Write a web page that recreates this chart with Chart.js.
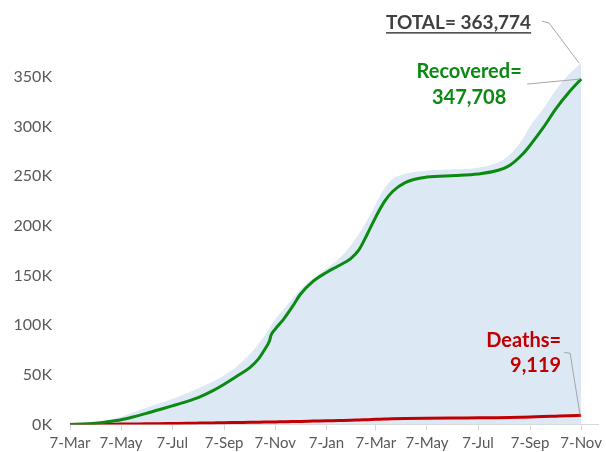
<!DOCTYPE html>
<html>
<head>
<meta charset="utf-8">
<script src="https://cdn.jsdelivr.net/npm/chart.js@4/dist/chart.umd.min.js"></script>
<style>
  html, body { margin: 0; padding: 0; background: #fff; }
  #wrap { width: 606px; height: 452px; }
</style>
</head>
<body>
<div id="wrap"><canvas id="covidChart" width="606" height="452"></canvas></div>
<script>
// days since 7-Mar-2020, values in thousands
const days = [0, 15, 30, 45, 61, 75, 90, 105, 122, 140, 155, 170, 184, 200, 215, 225, 232, 238, 240, 245, 255, 265, 275, 290, 306, 320, 335, 345, 355, 365, 375, 385, 400, 426, 460, 487, 510, 525, 540, 549, 565, 580, 595, 610];
const totalK = [0, 0.6, 1.8, 4, 7.8, 12, 16.5, 20.8, 25.6, 31.5, 37, 43, 49.5, 59, 71, 81, 89, 96.5, 99.5, 106, 116, 126, 136, 147, 157, 166, 180, 192, 206, 222, 237, 247, 252.5, 255.5, 256.8, 258.5, 263.5, 271.5, 287, 300, 318, 337, 352, 363.774];
const recoveredK = [0, 0.3, 1.2, 2.7, 4.7, 7.4, 10.8, 14.5, 18.6, 23.2, 27.8, 33.8, 40.5, 49, 57.5, 66, 75, 84, 90, 96, 106, 118, 131, 144, 153, 159.5, 167, 176, 192, 209, 224, 234.5, 243.5, 249, 250.5, 252.2, 255.6, 261, 272, 281, 299, 318, 334, 347.708];
const deathsK = [0, 0, 0.1, 0.2, 0.3, 0.4, 0.6, 0.7, 0.9, 1.1, 1.3, 1.5, 1.7, 1.9, 2.1, 2.2, 2.3, 2.4, 2.4, 2.5, 2.7, 2.9, 3.0, 3.3, 3.6, 3.9, 4.2, 4.5, 4.8, 5.1, 5.4, 5.7, 6.0, 6.3, 6.5, 6.6, 6.8, 7.0, 7.3, 7.5, 7.9, 8.3, 8.7, 9.119];

const tickDays = [0, 61, 122, 184, 245, 306, 365, 426, 487, 549, 610];
const tickLabels = ["7-Mar", "7-May", "7-Jul", "7-Sep", "7-Nov", "7-Jan", "7-Mar", "7-May", "7-Jul", "7-Sep", "7-Nov"];
const yTicks = [0, 50000, 100000, 150000, 200000, 250000, 300000, 350000];

const GREEN = "#0b8a12";
const RED = "#c00000";
const LEADER = "#a6a6a6";

function toPoints(valuesK) {
	return days.map((d, i) => ({ x: d, y: valuesK[i] * 1000 }));
}

function fmt(k) {
	return Math.round(k * 1000).toLocaleString("en-US");
}

// Labels with leader lines at the end of each series
const calloutPlugin = {
	id: "callouts",
	afterDraw(chart) {
		const { ctx } = chart;
		const x = chart.scales.x;
		const y = chart.scales.y;
		const n = days.length - 1;
		const ex = x.getPixelForValue(days[n]);
		const totY = y.getPixelForValue(totalK[n] * 1000);
		const recY = y.getPixelForValue(recoveredK[n] * 1000);
		const dthY = y.getPixelForValue(deathsK[n] * 1000);

		ctx.save();
		ctx.lineWidth = 1;
		ctx.strokeStyle = LEADER;

		// total
		ctx.beginPath();
		ctx.moveTo(ex - 39, totY - 42);
		ctx.lineTo(ex - 32, totY - 40);
		ctx.lineTo(ex - 2, totY);
		ctx.stroke();
		// recovered
		ctx.beginPath();
		ctx.moveTo(ex - 54, recY + 5);
		ctx.lineTo(ex - 1, recY);
		ctx.stroke();
		// deaths
		ctx.beginPath();
		ctx.moveTo(ex - 17, dthY - 63);
		ctx.lineTo(ex - 11, dthY - 62);
		ctx.lineTo(ex - 1, dthY);
		ctx.stroke();

		ctx.textBaseline = "alphabetic";

		const totText = "TOTAL= " + fmt(totalK[n]);
		ctx.font = "bold 19px Lato";
		ctx.fillStyle = "#404040";
		ctx.textAlign = "right";
		ctx.fillText(totText, ex - 50, totY - 34);
		const w = ctx.measureText(totText).width;
		ctx.fillRect(ex - 50 - w, totY - 31, w, 1.5);

		ctx.font = "bold 20px Lato";
		ctx.fillStyle = GREEN;
		ctx.textAlign = "center";
		ctx.fillText("Recovered=", ex - 112, recY - 1);
		ctx.fillText(fmt(recoveredK[n]), ex - 112, recY + 25);

		ctx.fillStyle = RED;
		ctx.textAlign = "right";
		ctx.fillText("Deaths=", ex - 20, dthY - 68);
		ctx.fillText(fmt(deathsK[n]), ex - 20, dthY - 43);
		ctx.restore();
	}
};

const ctx = document.getElementById("covidChart").getContext("2d");

new Chart(ctx, {
	type: "line",
	data: {
		datasets: [
			{
				label: "Recovered",
				data: toPoints(recoveredK),
				borderColor: GREEN,
				borderWidth: 3,
				pointRadius: 0,
				fill: false,
				cubicInterpolationMode: "monotone",
			},
			{
				label: "Deaths",
				data: toPoints(deathsK),
				borderColor: RED,
				borderWidth: 3,
				pointRadius: 0,
				fill: false,
				cubicInterpolationMode: "monotone",
			},
			{
				label: "Total",
				data: toPoints(totalK),
				borderWidth: 0,
				borderColor: "rgba(0,0,0,0)",
				backgroundColor: "#dde8f5",
				fill: "origin",
				pointRadius: 0,
				cubicInterpolationMode: "monotone",
			},
		],
	},
	options: {
		responsive: false,
		animation: false,
		layout: { padding: { top: 47, right: 3, left: 0, bottom: 0 } },
		plugins: {
			legend: { display: false },
			tooltip: { enabled: false },
		},
		scales: {
			x: {
				type: "linear",
				min: 0,
				max: 631,
				afterBuildTicks: (scale) => {
					scale.ticks = tickDays.map((v) => ({ value: v }));
				},
				afterFit: (scale) => {
					scale.height = 27;
				},
				ticks: {
					callback: (v, i) => tickLabels[i],
					color: "#595959",
					font: { family: "Lato", size: 15 },
					padding: 4,
					maxRotation: 0,
					autoSkip: false,
				},
				grid: { drawOnChartArea: false, color: "#d9d9d9", tickLength: 6 },
				border: { color: "#d9d9d9" },
			},
			y: {
				min: 0,
				max: 380000,
				afterBuildTicks: (scale) => {
					scale.ticks = yTicks.map((v) => ({ value: v }));
				},
				afterFit: (scale) => {
					scale.width = 70;
				},
				ticks: {
					callback: (v) => v / 1000 + "K",
					color: "#595959",
					font: { family: "Lato", size: 16 },
					padding: 18,
				},
				grid: { display: false, drawTicks: false },
				border: { display: false },
			},
		},
	},
	plugins: [calloutPlugin],
});
</script>
</body>
</html>
